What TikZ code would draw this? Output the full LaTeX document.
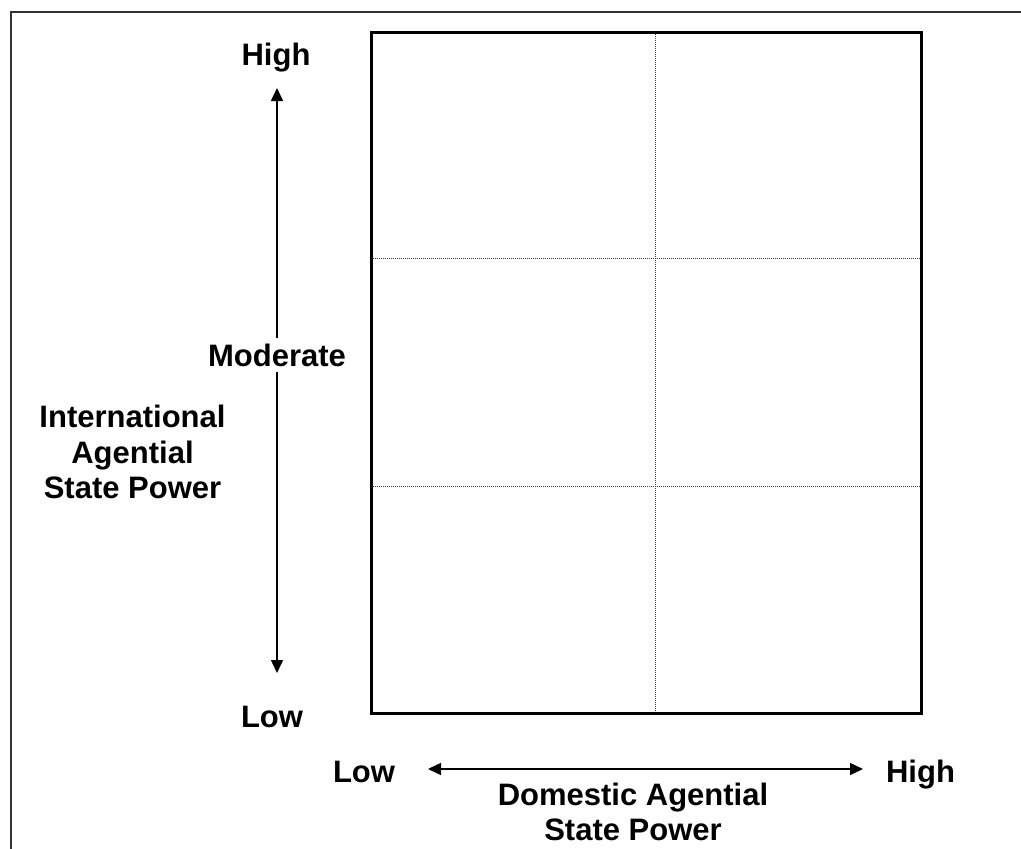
\documentclass[tikz,border=0pt]{standalone}
\usepackage{fontspec}
\setmainfont{Liberation Sans}
\usetikzlibrary{arrows.meta}
\begin{document}
\begin{tikzpicture}[x=1pt,y=-1pt,
  lbl/.style={font=\fontsize{31}{35.5}\selectfont\bfseries, inner sep=0pt, align=center},
  axis/.style={line width=1.5pt, {Triangle[length=13pt,width=12pt]}-{Triangle[length=13pt,width=12pt]}},
  grid line/.style={line width=1pt, black!75, dash pattern=on 1pt off 1pt},
  frame/.style={line width=1.6pt, black!80}]
\useasboundingbox (0,0) rectangle (1021,849);

% outer frame (open at right and bottom)
\draw[frame] (11,849) -- (11,12) -- (1021,12);

% matrix box with dotted cell divisions
\coordinate (bTL) at (371,32);
\coordinate (bBR) at (921,713);
\draw[grid line] (655,32) -- (655,713);
\draw[grid line] (371,258) -- (921,258);
\draw[grid line] (371,486) -- (921,486);
\draw[line width=3pt] (bTL) rectangle (bBR);

% vertical axis
\coordinate (vTop) at (277,88);
\coordinate (vBot) at (277,673);
\draw[axis] (vTop) -- (vBot);
\node[lbl, anchor=base] (yHigh) at (276,65) {High};
\node[lbl, anchor=base, fill=white, inner xsep=3pt, inner ysep=6pt] (yMod) at (277,366) {Moderate};
\node[lbl, anchor=base] (yLow) at (272,727) {Low};
\node[lbl] (yTitle) at (132.5,452) {International\\Agential\\State Power};

% horizontal axis
\coordinate (hL) at (428,769);
\coordinate (hR) at (863,769);
\draw[axis] (hL) -- (hR);
\node[lbl, anchor=base] (xLow) at (364,782) {Low};
\node[lbl, anchor=base] (xHigh) at (920.5,782) {High};
\node[lbl] (xTitle) at (633,812) {Domestic Agential\\State Power};
\end{tikzpicture}
\end{document}
